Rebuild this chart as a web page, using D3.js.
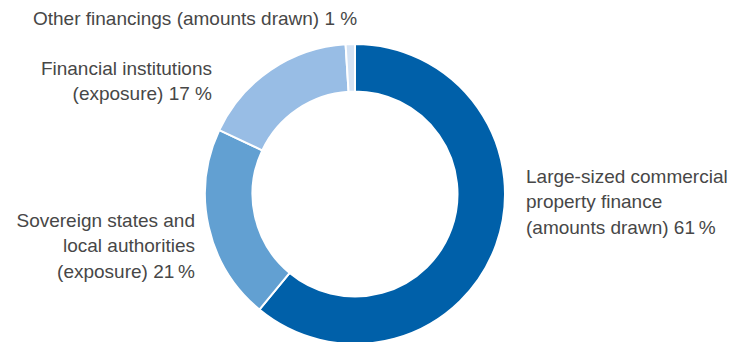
<!DOCTYPE html>
<html>
<head>
<meta charset="utf-8">
<script src="https://cdn.jsdelivr.net/npm/d3@7"></script>
<style>
  html, body { margin: 0; padding: 0; background: #fff; }
  svg { display: block; }
  text { font-family: "Liberation Sans", Arial, sans-serif; fill: #474747; }
</style>
</head>
<body>
<svg id="chart" width="732" height="342"></svg>
<script>
// Portfolio shares, clockwise from 12 o'clock
const categories = [
  "Large-sized commercial property finance (amounts drawn)",
  "Sovereign states and local authorities (exposure)",
  "Financial institutions (exposure)",
  "Other financings (amounts drawn)"
];
const shares = [61, 21, 17, 1];
const colors = ["#0060a9", "#62a0d2", "#98bde5", "#d5e3f4"];

// Label text, one array of lines per slice
const labelLines = [
  ["Large-sized commercial", "property finance", "(amounts drawn) 61\u2009%"],
  ["Sovereign states and", "local authorities", "(exposure) 21\u2009%"],
  ["Financial institutions", "(exposure) 17 %"],
  ["Other financings (amounts drawn) 1 %"]
];

const svg = d3.select("#chart");
const cx = 355, cy = 194, outerR = 150, innerR = 102.5;

const pie = d3.pie().sort(null).value(d => d).startAngle(0).endAngle(2 * Math.PI);
const arc = d3.arc().innerRadius(innerR).outerRadius(outerR);

const g = svg.append("g").attr("transform", `translate(${cx},${cy})`);
g.selectAll("path")
  .data(pie(shares))
  .join("path")
  .attr("d", arc)
  .attr("fill", (d, i) => colors[i])
  .attr("stroke", "#fff")
  .attr("stroke-width", 2);

// Label anchor positions and alignment for each slice
const labelPos = [
  { x: 526, y: 183, anchor: "start" },
  { x: 195, y: 227, anchor: "end" },
  { x: 212, y: 75, anchor: "end" },
  { x: 33, y: 25, anchor: "start" }
];
const lineH = 25.3;

const labels = svg.append("g").attr("font-size", 19);
labelLines.forEach((lines, i) => {
  const p = labelPos[i];
  const t = labels.append("text")
    .attr("x", p.x).attr("y", p.y)
    .attr("text-anchor", p.anchor);
  lines.forEach((ln, j) => {
    t.append("tspan").attr("x", p.x).attr("y", p.y + j * lineH).text(ln);
  });
});
</script>
</body>
</html>
